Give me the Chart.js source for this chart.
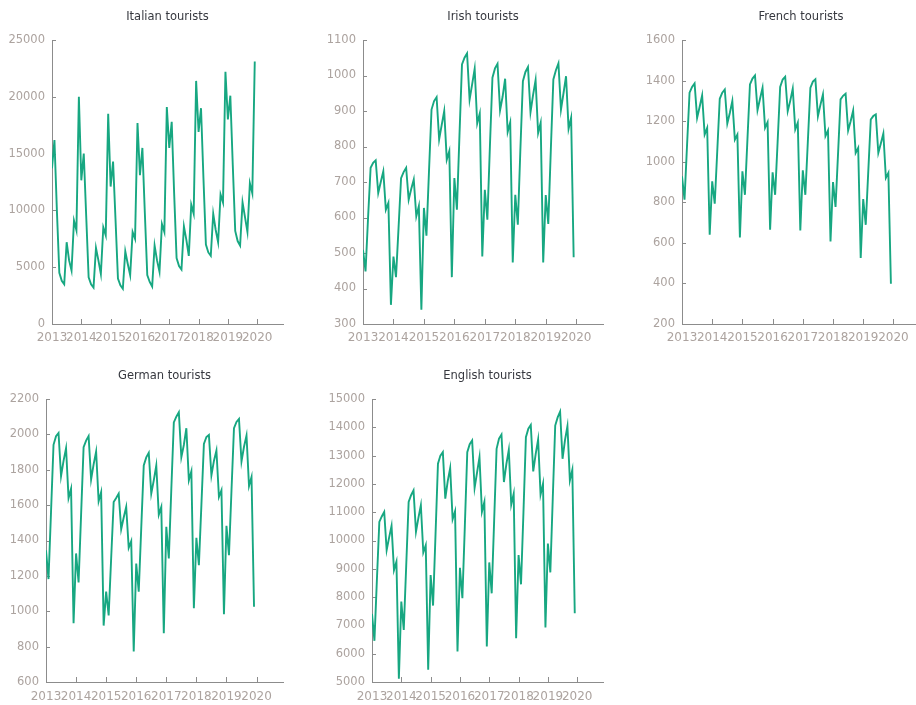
<!DOCTYPE html>
<html>
<head>
<meta charset="utf-8">
<script src="https://cdn.jsdelivr.net/npm/chart.js@4.4.1/dist/chart.umd.min.js"></script>
<style>
  html, body { margin: 0; padding: 0; background: #ffffff; }
  body { position: relative; width: 916px; height: 705px; overflow: hidden; }
  canvas { position: absolute; }
</style>
</head>
<body>
<canvas id="italian"></canvas>
<canvas id="irish"></canvas>
<canvas id="french"></canvas>
<canvas id="german"></canvas>
<canvas id="english"></canvas>
<script>
// Monthly tourist arrivals, January 2013 to December 2019
const startYear = 2013;
const yearTicks = [2013, 2014, 2015, 2016, 2017, 2018, 2019, 2020];

const italian = [
  13700, 16200, 10000, 4500, 3800, 3500, 7200, 5600, 4700, 9100, 8250, 20000,
  12650, 15000, 9500, 4100, 3500, 3200, 6700, 5600, 4400, 8500, 7800, 18500,
  12100, 14300, 9200, 4000, 3400, 3100, 6400, 5300, 4300, 8100, 7500, 17700,
  13100, 15500, 9800, 4300, 3700, 3300, 6900, 5600, 4600, 8800, 8100, 19100,
  15500, 17800, 11500, 5800, 5100, 4800, 8600, 7400, 6000, 10500, 9700, 21400,
  16900, 19000, 12800, 7000, 6300, 6000, 9700, 8300, 7200, 11400, 10700, 22200,
  18000, 20100, 14000, 8200, 7300, 6900, 10700, 9400, 8100, 12400, 11500, 23100
];
const irish = [
  509, 448, 600, 740, 754, 761, 669, 700, 730, 622, 641, 354,
  490, 432, 570, 711, 728, 740, 650, 680, 707, 603, 632, 340,
  627, 549, 730, 904, 928, 939, 820, 860, 900, 763, 787, 432,
  711, 622, 830, 1031, 1050, 1062, 932, 975, 1019, 865, 893, 490,
  678, 594, 800, 994, 1020, 1033, 902, 940, 991, 841, 868, 473,
  664, 580, 790, 984, 1010, 1024, 897, 945, 987, 838, 867, 473,
  663, 582, 790, 989, 1015, 1034, 904, 950, 998, 850, 881, 488
];
const french = [
  928, 813, 1080, 1340, 1369, 1386, 1216, 1270, 1327, 1134, 1167, 640,
  903, 793, 1050, 1310, 1340, 1356, 1188, 1240, 1299, 1109, 1134, 627,
  953, 837, 1110, 1381, 1410, 1425, 1254, 1310, 1364, 1167, 1195, 665,
  948, 837, 1100, 1369, 1405, 1419, 1249, 1300, 1360, 1159, 1192, 661,
  958, 837, 1100, 1364, 1395, 1406, 1224, 1280, 1332, 1126, 1154, 607,
  900, 777, 1040, 1307, 1325, 1335, 1154, 1200, 1252, 1043, 1068, 525,
  816, 689, 950, 1208, 1225, 1233, 1043, 1090, 1139, 920, 945, 398
];
const german = [
  1345, 1182, 1560, 1941, 1990, 2008, 1764, 1850, 1922, 1640, 1693, 932,
  1327, 1163, 1545, 1928, 1965, 1990, 1745, 1830, 1903, 1622, 1674, 919,
  1111, 976, 1300, 1618, 1640, 1665, 1464, 1530, 1590, 1359, 1396, 773,
  1270, 1111, 1470, 1824, 1870, 1896, 1665, 1740, 1824, 1546, 1590, 876,
  1477, 1299, 1690, 2068, 2100, 2125, 1871, 1940, 2035, 1740, 1791, 1017,
  1415, 1261, 1600, 1946, 1985, 1997, 1768, 1850, 1909, 1646, 1684, 983,
  1483, 1317, 1680, 2035, 2070, 2087, 1847, 1930, 1993, 1708, 1759, 1026
];
const english = [
  7406, 6455, 8600, 10657, 10850, 11010, 9660, 10100, 10516, 8955, 9249, 5117,
  7840, 6843, 9100, 11362, 11600, 11772, 10305, 10800, 11244, 9578, 9836, 5434,
  8779, 7700, 10200, 12711, 13000, 13122, 11479, 12100, 12559, 10751, 11033, 6080,
  9038, 7958, 10500, 13122, 13400, 13533, 11855, 12400, 12946, 11010, 11362, 6256,
  9225, 8134, 10700, 13239, 13600, 13744, 12066, 12700, 13204, 11268, 11655, 6549,
  9484, 8451, 11000, 13650, 13950, 14085, 12441, 13050, 13568, 11620, 12007, 6925,
  9894, 8873, 11500, 14061, 14350, 14554, 12887, 13550, 14038, 12124, 12500, 7430
];

// Month positions as fractional years
const months = italian.map((_, i) => startYear + i / 12);

const LINE = '#17a781';
const AXIS = '#8c8c8c';
const TICK_TEXT = '#aca39f';
const TITLE_TEXT = '#36383f';
const FONT = "'DejaVu Sans', Verdana, sans-serif";

// Short tick marks pointing into the plot area
const innerTicks = {
  id: 'innerTicks',
  beforeDatasetsDraw(chart) {
    const { ctx, chartArea, scales } = chart;
    ctx.save();
    ctx.strokeStyle = AXIS;
    ctx.lineWidth = 1;
    ctx.beginPath();
    scales.x.ticks.forEach((t, i) => {
      const px = Math.round(scales.x.getPixelForTick(i)) + 0.5;
      ctx.moveTo(px, chartArea.bottom);
      ctx.lineTo(px, chartArea.bottom - 5);
    });
    scales.y.ticks.forEach((t, i) => {
      const py = Math.round(scales.y.getPixelForTick(i)) + 0.5;
      ctx.moveTo(chartArea.left, py);
      ctx.lineTo(chartArea.left + 4, py);
    });
    ctx.stroke();
    ctx.restore();
  }
};

const panels = [
  { id: 'italian', title: 'Italian tourists', values: italian, yMin: 0, yMax: 25000, yStep: 5000,
    left: 0, top: 0, width: 286, height: 350, yW: 52, xH: 26, labelPad: 7 },
  { id: 'irish', title: 'Irish tourists', values: irish, yMin: 300, yMax: 1100, yStep: 100,
    left: 311, top: 0, width: 295, height: 350, yW: 52, xH: 26, labelPad: 7 },
  { id: 'french', title: 'French tourists', values: french, yMin: 200, yMax: 1600, yStep: 200,
    left: 630, top: 0, width: 293, height: 350, yW: 52, xH: 26, labelPad: 7 },
  { id: 'german', title: 'German tourists', values: german, yMin: 600, yMax: 2200, yStep: 200,
    left: 0, top: 359, width: 286, height: 346, yW: 46, xH: 23, labelPad: 8 },
  { id: 'english', title: 'English tourists', values: english, yMin: 5000, yMax: 15000, yStep: 1000,
    left: 320, top: 359, width: 286, height: 346, yW: 52, xH: 23, labelPad: 8 }
];

panels.forEach(p => {
  const canvas = document.getElementById(p.id);
  canvas.width = p.width;
  canvas.height = p.height;
  canvas.style.left = p.left + 'px';
  canvas.style.top = p.top + 'px';
  canvas.style.width = p.width + 'px';
  canvas.style.height = p.height + 'px';

  new Chart(canvas, {
    type: 'line',
    data: {
      datasets: [{
        data: p.values.map((v, i) => ({ x: months[i], y: v })),
        borderColor: LINE,
        borderWidth: 1.9,
        pointRadius: 0,
        tension: 0,
        fill: false
      }]
    },
    options: {
      responsive: false,
      animation: false,
      devicePixelRatio: 1,
      layout: { padding: { left: 0, right: 3, top: 0, bottom: 0 } },
      plugins: {
        legend: { display: false },
        tooltip: { enabled: false },
        title: {
          display: true,
          text: p.title,
          fullSize: false,
          color: TITLE_TEXT,
          font: { family: FONT, size: 11.5, weight: 'normal', lineHeight: 1.2 },
          padding: { top: 10.6, bottom: 15.6 }
        }
      },
      scales: {
        x: {
          type: 'linear',
          min: startYear,
          max: 2020.88,
          afterBuildTicks: s => { s.ticks = yearTicks.map(v => ({ value: v })); },
          afterFit: s => { s.height = p.xH; },
          grid: { display: true, drawOnChartArea: false, drawTicks: false },
          border: { display: true, color: AXIS, width: 1 },
          ticks: {
            autoSkip: false, maxRotation: 0, minRotation: 0,
            padding: p.labelPad,
            color: TICK_TEXT,
            font: { family: FONT, size: 12 },
            callback: v => String(v)
          }
        },
        y: {
          type: 'linear',
          min: p.yMin,
          max: p.yMax,
          afterFit: s => { s.width = p.yW; },
          grid: { display: true, drawOnChartArea: false, drawTicks: false },
          border: { display: true, color: AXIS, width: 1 },
          ticks: {
            stepSize: p.yStep,
            padding: 7,
            color: TICK_TEXT,
            font: { family: FONT, size: 11.5 },
            callback: v => String(v)
          }
        }
      }
    },
    plugins: [innerTicks]
  });
});
</script>
</body>
</html>
